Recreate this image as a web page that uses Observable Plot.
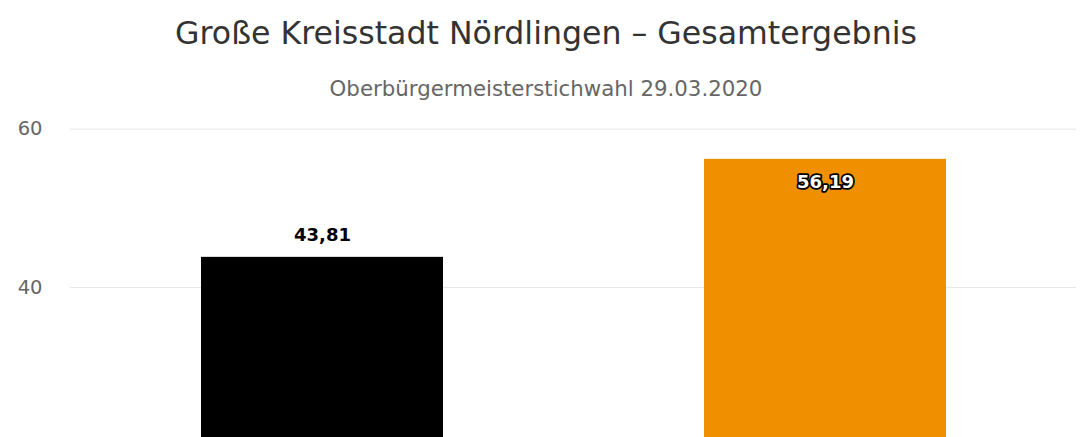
<!DOCTYPE html>
<html>
<head>
<meta charset="utf-8">
<script src="https://cdn.jsdelivr.net/npm/d3@7"></script>
<script src="https://cdn.jsdelivr.net/npm/@observablehq/plot@0.6"></script>
<style>
  body { margin: 0; background: #fff; overflow: hidden; }
  #title { position: absolute; left: 0; top: 13px; width: 1092px; text-align: center; font-family: "DejaVu Sans"; font-size: 31.6px; color: #333; line-height: 40px; white-space: nowrap; }
  #subtitle { position: absolute; left: 0; top: 76px; width: 1092px; text-align: center; font-family: "DejaVu Sans"; font-size: 21.3px; color: #666; line-height: 26px; white-space: nowrap; }
  #chart { position: absolute; left: 0; top: 110px; }
</style>
</head>
<body>
<div id="title">Große Kreisstadt Nördlingen – Gesamtergebnis</div>
<div id="subtitle">Oberbürgermeisterstichwahl 29.03.2020</div>
<div id="chart"></div>
<script>
const candidates = ["Steffen Höhenberger (CSU)", "David Wittner (PWG)"];
const values = [43.81, 56.19];
const colors = ["#000000", "#f08f00"];
const labels = ["43,81", "56,19"];
const yTicks = [0, 20, 40, 60];
// visible part of the value axis (the chart continues below the window)
const yVisible = [21.05, 60];

const data = candidates.map((c, i) => ({candidate: c, value: values[i], color: colors[i], label: labels[i]}));
const ticksShown = yTicks.filter(t => t >= yVisible[0] && t <= yVisible[1]);

const chart = Plot.plot({
  width: 1092,
  height: 327,
  marginTop: 18.7,
  marginBottom: 0,
  marginLeft: 70,
  marginRight: 16,
  style: {fontFamily: "DejaVu Sans", background: "#fff"},
  x: {domain: candidates, paddingInner: 0.519, paddingOuter: 0.2595, label: null, axis: null},
  y: {domain: yVisible, label: null, axis: null},
  marks: [
    Plot.gridY(ticksShown, {stroke: "#e6e6e6", strokeOpacity: 1, strokeWidth: 1}),
    Plot.barY(data, {x: "candidate", y: "value", fill: "color", clip: "frame"}),
    Plot.axisY(ticksShown, {tickSize: 0, tickPadding: 28, fontSize: 19.5, fill: "#666", textAnchor: "end"}),
    Plot.text(data.filter(d => d.color === "#000000"), {x: "candidate", y: "value", text: "label", dy: -22, fontSize: 18, fontWeight: "bold", fill: "#000", stroke: "#fff", strokeWidth: 2, paintOrder: "stroke"}),
    Plot.text(data.filter(d => d.color !== "#000000"), {x: "candidate", y: "value", text: "label", dy: 23, fontSize: 18, fontWeight: "bold", fill: "#fff", stroke: "#000", strokeWidth: 3.5, strokeLinejoin: "round", paintOrder: "stroke"})
  ]
});
document.getElementById("chart").appendChild(chart);
</script>
</body>
</html>
